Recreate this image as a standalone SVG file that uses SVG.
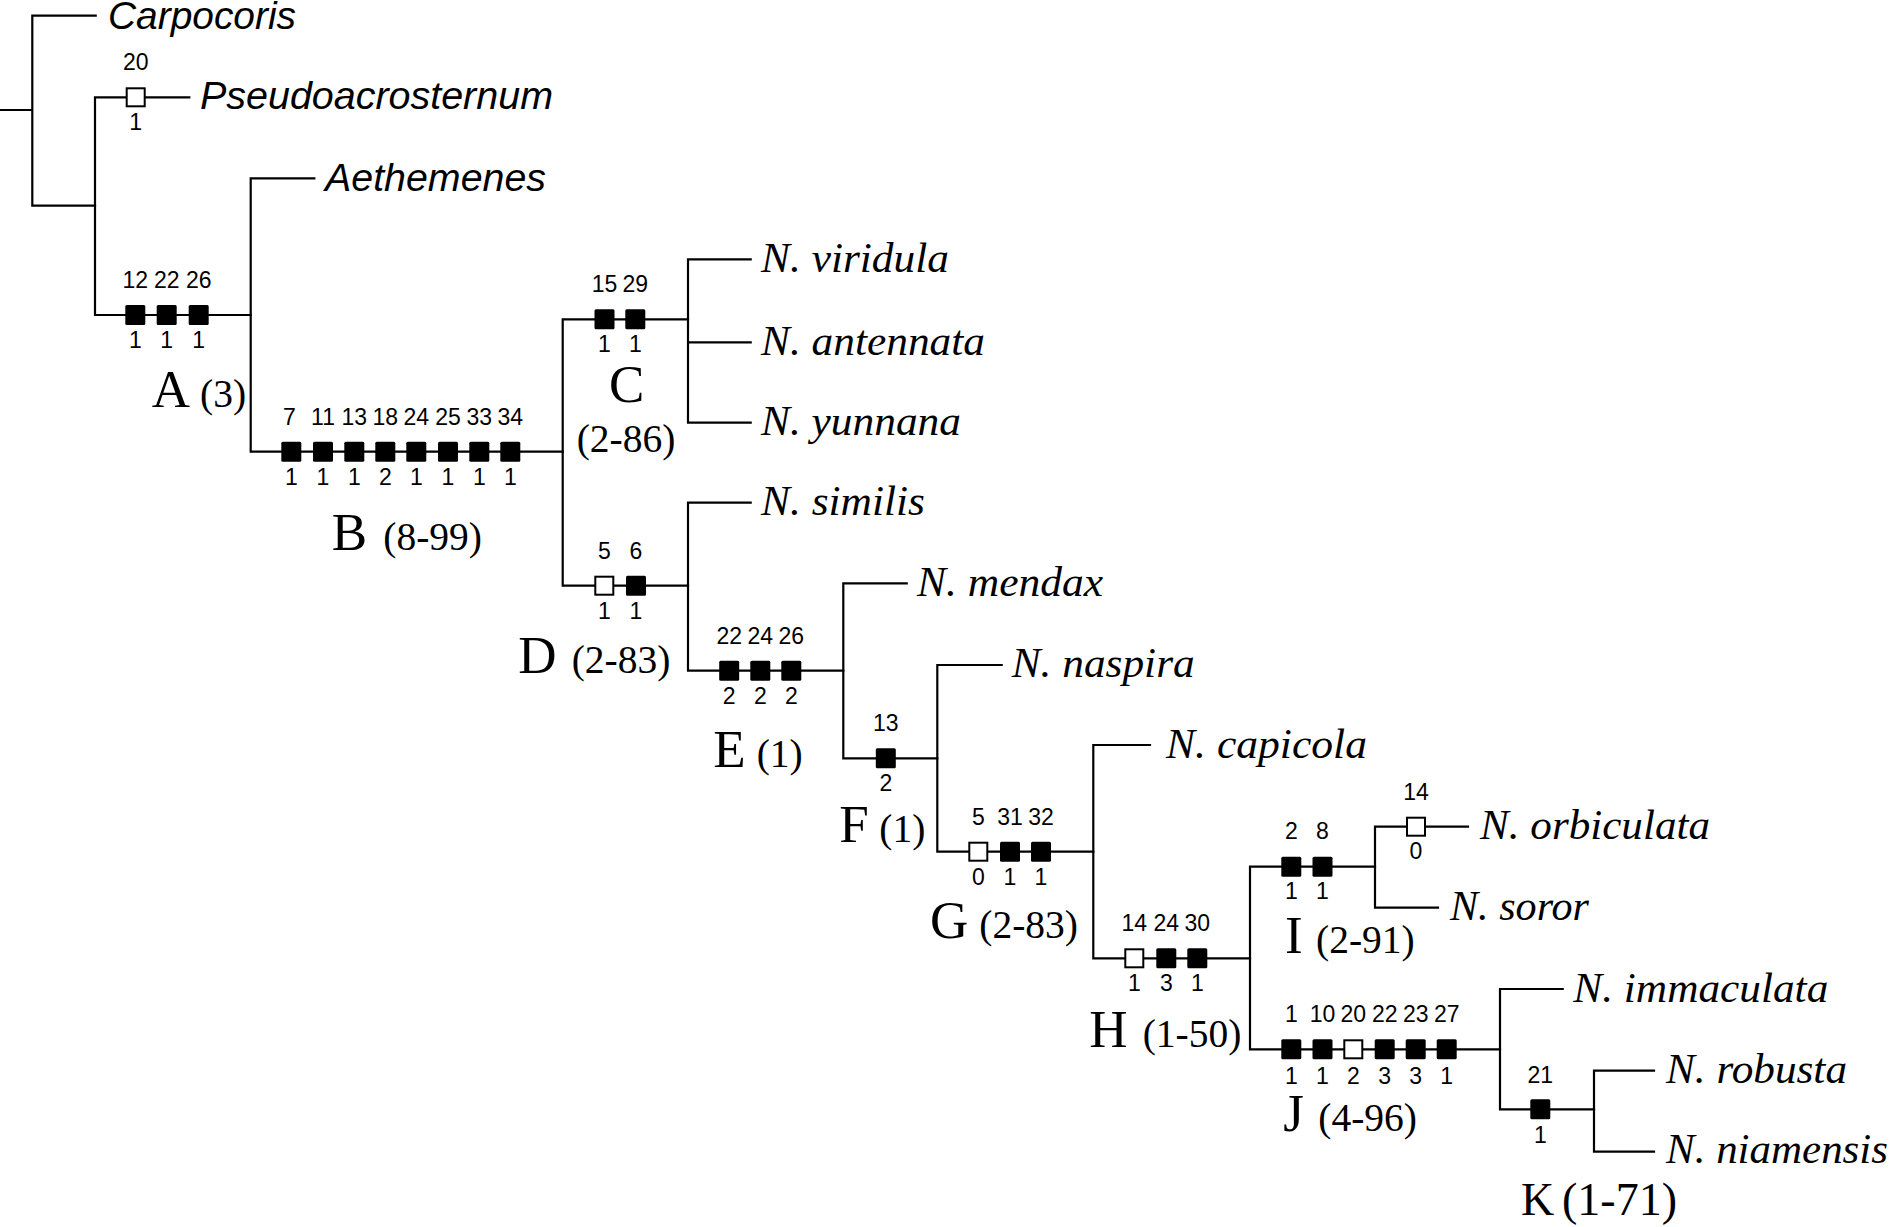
<svg xmlns="http://www.w3.org/2000/svg" width="1891" height="1227" viewBox="0 0 1891 1227">
<style>
.br{stroke:#000;stroke-width:2.2;fill:none;stroke-linecap:square}
.sq{fill:#000}
.oq{fill:#fff;stroke:#000;stroke-width:2}
.num{font-family:"Liberation Sans",Arial,sans-serif;font-size:23px;text-anchor:middle;fill:#000}
.ts{font-family:"Liberation Sans",Arial,sans-serif;font-size:39px;font-style:italic;fill:#000}
.tx{font-family:"Liberation Serif","Times New Roman",serif;font-size:43px;font-style:italic;fill:#000}
.cl{font-family:"Liberation Serif","Times New Roman",serif;font-size:53px;fill:#000}
.cp{font-family:"Liberation Serif","Times New Roman",serif;font-size:39.5px;fill:#000}
.ck{font-family:"Liberation Serif","Times New Roman",serif;font-size:46px;fill:#000}
</style>
<defs>
<rect id="fs" x="-10" y="-10" width="20" height="20" rx="1.5"/>
<rect id="os" x="-9" y="-9" width="18" height="18"/>
</defs>
<rect width="1891" height="1227" fill="#fff"/>
<g id="connectors" class="br">
<path d="M0,110H32.3M32.3,15.7V205.7M32.3,15.7H95.7M32.3,205.7H95"/>
<path d="M95,97.3V315M95,97.3H189.3M95,315H250.7"/>
<path d="M250.7,178.3V451.7M250.7,178.3H314.3M250.7,451.7H562.7"/>
<path d="M562.7,319.3V585.7M562.7,319.3H688M562.7,585.7H688"/>
<path d="M688,259.3V422.7M688,259.3H750.7M688,342.3H750.7M688,422.7H750.7"/>
<path d="M688,502.7V670.7M688,502.7H750.7M688,670.7H843.3"/>
<path d="M843.3,583.3V758.3M843.3,583.3H906.7M843.3,758.3H937.3"/>
<path d="M937.3,665V851.7M937.3,665H1001.7M937.3,851.7H1093.3"/>
<path d="M1093.3,745V958.3M1093.3,745H1150M1093.3,958.3H1250"/>
<path d="M1250,866.7V1049.3M1250,866.7H1375M1250,1049.3H1500"/>
<path d="M1375,826.7V907.7M1375,826.7H1468M1375,907.7H1438"/>
<path d="M1500,989V1109.3M1500,989H1562.7M1500,1109.3H1594"/>
<path d="M1594,1070.7V1151.7M1594,1070.7H1654M1594,1151.7H1654"/>
</g>
<g id="taxon-carpocoris"><text class="ts" x="108" y="28.8" textLength="188" lengthAdjust="spacingAndGlyphs">Carpocoris</text></g>
<g id="taxon-pseudoacrosternum"><text class="ts" x="200" y="109.3" textLength="353" lengthAdjust="spacingAndGlyphs">Pseudoacrosternum</text></g>
<g id="taxon-aethemenes"><text class="ts" x="325" y="190.7" textLength="221" lengthAdjust="spacingAndGlyphs">Aethemenes</text></g>
<g id="taxon-viridula"><text class="tx" x="761" y="272" textLength="188" lengthAdjust="spacingAndGlyphs">N. viridula</text></g>
<g id="taxon-antennata"><text class="tx" x="761" y="355" textLength="224" lengthAdjust="spacingAndGlyphs">N. antennata</text></g>
<g id="taxon-yunnana"><text class="tx" x="761" y="435" textLength="200" lengthAdjust="spacingAndGlyphs">N. yunnana</text></g>
<g id="taxon-similis"><text class="tx" x="761" y="515" textLength="164" lengthAdjust="spacingAndGlyphs">N. similis</text></g>
<g id="taxon-mendax"><text class="tx" x="917" y="596" textLength="186" lengthAdjust="spacingAndGlyphs">N. mendax</text></g>
<g id="taxon-naspira"><text class="tx" x="1011.7" y="677" textLength="183" lengthAdjust="spacingAndGlyphs">N. naspira</text></g>
<g id="taxon-capicola"><text class="tx" x="1166" y="757.5" textLength="201" lengthAdjust="spacingAndGlyphs">N. capicola</text></g>
<g id="taxon-orbiculata"><text class="tx" x="1480" y="838.5" textLength="230" lengthAdjust="spacingAndGlyphs">N. orbiculata</text></g>
<g id="taxon-soror"><text class="tx" x="1450" y="920" textLength="139" lengthAdjust="spacingAndGlyphs">N. soror</text></g>
<g id="taxon-immaculata"><text class="tx" x="1573.3" y="1001.7" textLength="255" lengthAdjust="spacingAndGlyphs">N. immaculata</text></g>
<g id="taxon-robusta"><text class="tx" x="1666" y="1083.3" textLength="181" lengthAdjust="spacingAndGlyphs">N. robusta</text></g>
<g id="taxon-niamensis"><text class="tx" x="1666" y="1163.3" textLength="222" lengthAdjust="spacingAndGlyphs">N. niamensis</text></g>

<g id="node-pseudo-chars">
<use href="#os" x="135.7" y="97.3" class="oq"/>
<text class="num" x="135.7" y="70.3">20</text><text class="num" x="135.7" y="130.3">1</text>
</g>
<g id="node-A">
<use href="#fs" x="135.3" y="315" class="sq"/><use href="#fs" x="166.7" y="315" class="sq"/><use href="#fs" x="198.7" y="315" class="sq"/>
<text class="num" x="135.3" y="288.3">12</text><text class="num" x="166.7" y="288.3">22</text><text class="num" x="198.7" y="288.3">26</text>
<text class="num" x="135.3" y="348.3">1</text><text class="num" x="166.7" y="348.3">1</text><text class="num" x="198.7" y="348.3">1</text>
<text class="cl" x="151.8" y="407">A</text><text class="cp" x="200" y="407">(3)</text>
</g>
<g id="node-B">
<use href="#fs" x="291.3" y="451.7" class="sq"/><use href="#fs" x="323" y="451.7" class="sq"/><use href="#fs" x="354.3" y="451.7" class="sq"/><use href="#fs" x="385.3" y="451.7" class="sq"/><use href="#fs" x="416.3" y="451.7" class="sq"/><use href="#fs" x="448" y="451.7" class="sq"/><use href="#fs" x="479.3" y="451.7" class="sq"/><use href="#fs" x="510.3" y="451.7" class="sq"/>
<text class="num" x="289.5" y="425">7</text><text class="num" x="323" y="425">11</text><text class="num" x="354.3" y="425">13</text><text class="num" x="385.3" y="425">18</text><text class="num" x="416.3" y="425">24</text><text class="num" x="448" y="425">25</text><text class="num" x="479.3" y="425">33</text><text class="num" x="510.3" y="425">34</text>
<text class="num" x="291.3" y="485">1</text><text class="num" x="323" y="485">1</text><text class="num" x="354.3" y="485">1</text><text class="num" x="385.3" y="485">2</text><text class="num" x="416.3" y="485">1</text><text class="num" x="448" y="485">1</text><text class="num" x="479.3" y="485">1</text><text class="num" x="510.3" y="485">1</text>
<text class="cl" x="331.7" y="550">B</text><text class="cp" x="383.3" y="550">(8-99)</text>
</g>
<g id="node-C">
<use href="#fs" x="604.5" y="319.3" class="sq"/><use href="#fs" x="635.3" y="319.3" class="sq"/>
<text class="num" x="604.5" y="292">15</text><text class="num" x="635.3" y="292">29</text>
<text class="num" x="604.5" y="352">1</text><text class="num" x="635.3" y="352">1</text>
<text class="cl" x="626.7" y="401.7" text-anchor="middle">C</text><text class="cp" x="626" y="452" text-anchor="middle">(2-86)</text>
</g>
<g id="node-D">
<use href="#os" x="604.3" y="585.7" class="oq"/><use href="#fs" x="636" y="585.7" class="sq"/>
<text class="num" x="604.3" y="558.5">5</text><text class="num" x="636" y="558.5">6</text>
<text class="num" x="604.3" y="618.5">1</text><text class="num" x="636" y="618.5">1</text>
<text class="cl" x="518.3" y="673.3">D</text><text class="cp" x="571.7" y="673.3">(2-83)</text>
</g>
<g id="node-E">
<use href="#fs" x="729.2" y="670.7" class="sq"/><use href="#fs" x="760.3" y="670.7" class="sq"/><use href="#fs" x="791.3" y="670.7" class="sq"/>
<text class="num" x="729.2" y="643.5">22</text><text class="num" x="760.3" y="643.5">24</text><text class="num" x="791.3" y="643.5">26</text>
<text class="num" x="729.2" y="703.5">2</text><text class="num" x="760.3" y="703.5">2</text><text class="num" x="791.3" y="703.5">2</text>
<text class="cl" x="713.3" y="766.7">E</text><text class="cp" x="756.7" y="766.7">(1)</text>
</g>
<g id="node-F">
<use href="#fs" x="885.8" y="758.3" class="sq"/>
<text class="num" x="885.8" y="730.5">13</text><text class="num" x="885.8" y="790.7">2</text>
<text class="cl" x="839.3" y="841.7">F</text><text class="cp" x="879.3" y="841.7">(1)</text>
</g>
<g id="node-G">
<use href="#os" x="978.3" y="851.7" class="oq"/><use href="#fs" x="1010" y="851.7" class="sq"/><use href="#fs" x="1041" y="851.7" class="sq"/>
<text class="num" x="978.3" y="825">5</text><text class="num" x="1010" y="825">31</text><text class="num" x="1041" y="825">32</text>
<text class="num" x="978.3" y="884.5">0</text><text class="num" x="1010" y="884.5">1</text><text class="num" x="1041" y="884.5">1</text>
<text class="cl" x="930" y="938">G</text><text class="cp" x="979.3" y="938">(2-83)</text>
</g>
<g id="node-H">
<use href="#os" x="1134.3" y="958.3" class="oq"/><use href="#fs" x="1166.3" y="958.3" class="sq"/><use href="#fs" x="1197.3" y="958.3" class="sq"/>
<text class="num" x="1134.3" y="930.5">14</text><text class="num" x="1166.3" y="930.5">24</text><text class="num" x="1197.3" y="930.5">30</text>
<text class="num" x="1134.3" y="990.5">1</text><text class="num" x="1166.3" y="990.5">3</text><text class="num" x="1197.3" y="990.5">1</text>
<text class="cl" x="1089.3" y="1046.7">H</text><text class="cp" x="1142.7" y="1046.7">(1-50)</text>
</g>
<g id="node-I">
<use href="#fs" x="1291.3" y="866.7" class="sq"/><use href="#fs" x="1322.5" y="866.7" class="sq"/>
<text class="num" x="1291.3" y="838.5">2</text><text class="num" x="1322.5" y="838.5">8</text>
<text class="num" x="1291.3" y="899">1</text><text class="num" x="1322.5" y="899">1</text>
<text class="cl" x="1285" y="953.3">I</text><text class="cp" x="1316" y="953.3">(2-91)</text>
</g>
<g id="node-orbiculata-chars">
<use href="#os" x="1416" y="826.7" class="oq"/>
<text class="num" x="1416" y="799.5">14</text><text class="num" x="1416" y="859">0</text>
</g>
<g id="node-J">
<use href="#fs" x="1291.3" y="1049.3" class="sq"/><use href="#fs" x="1322.5" y="1049.3" class="sq"/><use href="#os" x="1353.3" y="1049.3" class="oq"/><use href="#fs" x="1384.7" y="1049.3" class="sq"/><use href="#fs" x="1415.7" y="1049.3" class="sq"/><use href="#fs" x="1446.7" y="1049.3" class="sq"/>
<text class="num" x="1291.3" y="1021.7">1</text><text class="num" x="1322.5" y="1021.7">10</text><text class="num" x="1353.3" y="1021.7">20</text><text class="num" x="1384.7" y="1021.7">22</text><text class="num" x="1415.7" y="1021.7">23</text><text class="num" x="1446.7" y="1021.7">27</text>
<text class="num" x="1291.3" y="1084.3">1</text><text class="num" x="1322.5" y="1084.3">1</text><text class="num" x="1353.3" y="1084.3">2</text><text class="num" x="1384.7" y="1084.3">3</text><text class="num" x="1415.7" y="1084.3">3</text><text class="num" x="1446.7" y="1084.3">1</text>
<text class="cl" x="1283.3" y="1131">J</text><text class="cp" x="1318.3" y="1131">(4-96)</text>
</g>
<g id="node-K">
<use href="#fs" x="1540.3" y="1109.3" class="sq"/>
<text class="num" x="1540.3" y="1082.7">21</text><text class="num" x="1540.3" y="1143.3">1</text>
<text class="ck" x="1521" y="1215">K</text><text class="ck" x="1562" y="1215">(1-71)</text>
</g>
</svg>
